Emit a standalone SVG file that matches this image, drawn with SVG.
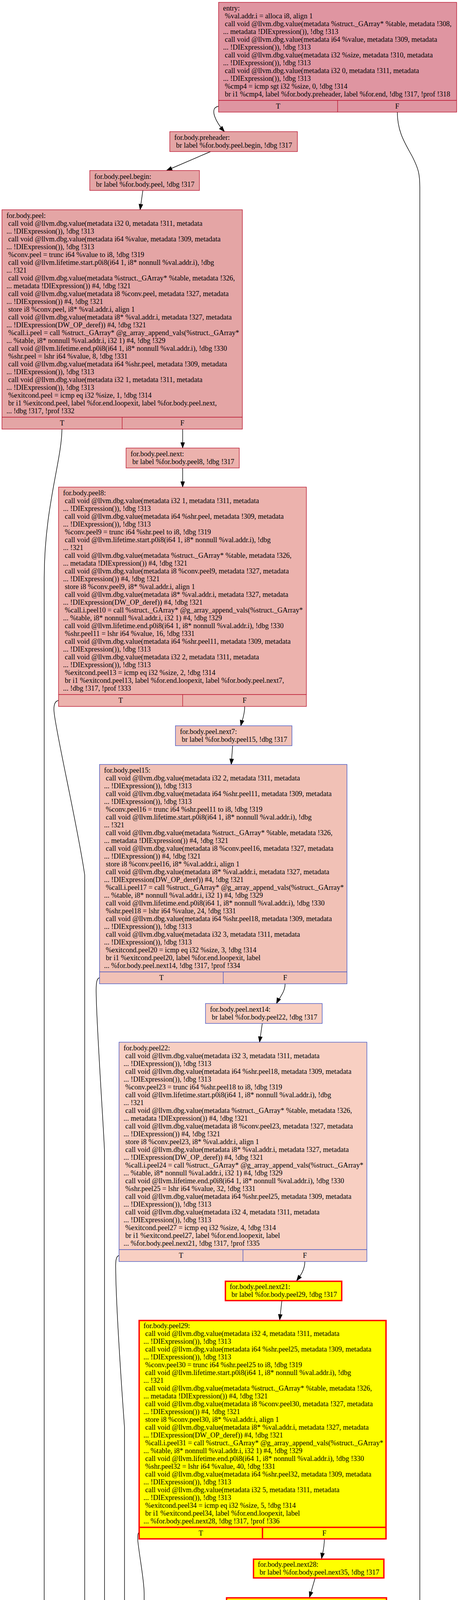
<svg xmlns="http://www.w3.org/2000/svg" width="1176" height="5268" viewBox="0 0 1176 5268">
<style>
.t{font-family:"Liberation Serif","Times New Roman",serif;font-size:18.35px;fill:#000;stroke:none}
.m{text-anchor:middle}
.c0{fill:#df95a1;stroke:#b70d28;stroke-width:1.3}
.c1{fill:#e4a5a5;stroke:#b70d28;stroke-width:1.3}
.c2{fill:#ecb2ad;stroke:#b70d28;stroke-width:1.3}
.c3{fill:#f1c1b6;stroke:#3d50c3;stroke-width:1.3}
.c4{fill:#f8cfc2;stroke:#3d50c3;stroke-width:1.3}
.cy{fill:#ffff00;stroke:#ff0000;stroke-width:3.5}
#edges path{fill:none;stroke:#000;stroke-width:1.4;marker-end:url(#ah)}
</style>
<defs>
<marker id="ah" markerWidth="15" markerHeight="11" viewBox="0 0 15 11" refX="14" refY="5" orient="auto" markerUnits="userSpaceOnUse" overflow="visible"><path d="M0,0 L14,5 L0,10 Z" fill="#000" stroke="#000" stroke-width="1"/></marker>
</defs>
<rect x="0" y="0" width="1176" height="5268" fill="#fff"/>

<g id="edges">
<path d="M560,272 C548,274 545,283 550,298 C555,312 565,326 575,337"/>
<path d="M1018,287 C1018,340 1040,370 1057,402 C1072,432 1075.6,445 1075.6,480 L1075.6,5000 C1075.6,5110 950,5165 780,5198"/>
<path d="M539.6,388 L426.7,436.5"/>
<path d="M366,487.5 L359,537"/>
<path d="M158.7,1098.5 C158,1180 113.3,1300 113.3,1480 L113.3,4640 C113.3,4740 125,4790 140,4820 C175,4890 240,4990 292,5080"/>
<path d="M468,1098.5 L468,1147"/>
<path d="M468,1198 L468,1247"/>
<path d="M150,1793 C140,1795 137,1805 138.5,1822 C142,1870 200,2120 217,2240 L217,4636 C217,4800 240,4900 301.5,5080"/>
<path d="M627,1808.5 C627,1830 620,1845 617,1858"/>
<path d="M596,1909 L592.5,1957"/>
<path d="M255,2503 C248,2505 246,2515 246.4,2540 C247,2620 265,2880 267.7,2945 L267.7,4636 C267.7,4800 285,4930 315,5080"/>
<path d="M730.5,2518.5 C730.5,2540 715,2555 708.5,2569"/>
<path d="M672,2620 L665,2668"/>
<path d="M305,3214 C298,3216 296,3225 296.4,3245 C297,3350 315,3600 319,3654 L319,5000 C319,5040 320,5060 321,5080"/>
<path d="M781,3229.5 C781,3252 768,3268 760,3278.6"/>
<path d="M722,3331 L716.6,3379"/>
<path d="M355,3924 C352,3928 352,3940 355,3960 C360,4000 369.4,4050 369.4,4080 L369.4,4680 C369.4,4850 345,4960 328,5080"/>
<path d="M831,3941 C831,3962 826,3978 824,3990"/>
<path d="M807,4041 L793,4089"/>
<path d="M769.5,4142 L742,4189"/>
<path d="M724,4242 L722.5,4289"/>
<path d="M559,4931 L559,4980"/>
<path d="M881.5,4931 C910,4955 940,4977 967.7,4976 C1005,4975 1030,4940 1036,4870 C1040,4800 1035,4720 1016,4643"/>
<path d="M497,5033 L386,5080"/>
<path d="M415,5131.7 L615,5183"/>
</g>

<g id="n_entry" class="c0">
<rect x="560" y="6" width="610" height="281"/>
<line x1="560" y1="257" x2="1170" y2="257"/>
<line x1="865" y1="257" x2="865" y2="287"/>
<text class="t"><tspan x="571.5" y="27">entry:</tspan><tspan x="576.1" y="47">%val.addr.i = alloca i8, align 1</tspan><tspan x="576.1" y="67">call void @llvm.dbg.value(metadata %struct._GArray* %table, metadata !308,</tspan><tspan x="571.5" y="87">... metadata !DIExpression()), !dbg !313</tspan><tspan x="576.1" y="107">call void @llvm.dbg.value(metadata i64 %value, metadata !309, metadata</tspan><tspan x="571.5" y="127">... !DIExpression()), !dbg !313</tspan><tspan x="576.1" y="147">call void @llvm.dbg.value(metadata i32 %size, metadata !310, metadata</tspan><tspan x="571.5" y="167">... !DIExpression()), !dbg !313</tspan><tspan x="576.1" y="187">call void @llvm.dbg.value(metadata i32 0, metadata !311, metadata</tspan><tspan x="571.5" y="207">... !DIExpression()), !dbg !313</tspan><tspan x="576.1" y="227">%cmp4 = icmp sgt i32 %size, 0, !dbg !314</tspan><tspan x="576.1" y="247">br i1 %cmp4, label %for.body.preheader, label %for.end, !dbg !317, !prof !318</tspan></text>
<text class="t m" x="712.5" y="278">T</text><text class="t m" x="1017.5" y="278">F</text>
</g>

<g id="n_preheader" class="c1">
<rect x="435" y="337" width="327" height="51"/>
<text class="t"><tspan x="446.5" y="358">for.body.preheader:</tspan><tspan x="451.1" y="378">br label %for.body.peel.begin, !dbg !317</tspan></text>
</g>

<g id="n_peel_begin" class="c1">
<rect x="230" y="436.5" width="281" height="51"/>
<text class="t"><tspan x="241.5" y="457.5">for.body.peel.begin:</tspan><tspan x="246.1" y="477.5">br label %for.body.peel, !dbg !317</tspan></text>
</g>

<g id="n_peel" class="c1">
<rect x="5" y="537" width="616" height="561.5"/>
<line x1="5" y1="1068" x2="621" y2="1068"/>
<line x1="313" y1="1068" x2="313" y2="1098.5"/>
<text class="t"><tspan x="16.5" y="558">for.body.peel:</tspan><tspan x="21.1" y="578">call void @llvm.dbg.value(metadata i32 0, metadata !311, metadata</tspan><tspan x="16.5" y="598">... !DIExpression()), !dbg !313</tspan><tspan x="21.1" y="618">call void @llvm.dbg.value(metadata i64 %value, metadata !309, metadata</tspan><tspan x="16.5" y="638">... !DIExpression()), !dbg !313</tspan><tspan x="21.1" y="658">%conv.peel = trunc i64 %value to i8, !dbg !319</tspan><tspan x="21.1" y="678">call void @llvm.lifetime.start.p0i8(i64 1, i8* nonnull %val.addr.i), !dbg</tspan><tspan x="16.5" y="698">... !321</tspan><tspan x="21.1" y="718">call void @llvm.dbg.value(metadata %struct._GArray* %table, metadata !326,</tspan><tspan x="16.5" y="738">... metadata !DIExpression()) #4, !dbg !321</tspan><tspan x="21.1" y="758">call void @llvm.dbg.value(metadata i8 %conv.peel, metadata !327, metadata</tspan><tspan x="16.5" y="778">... !DIExpression()) #4, !dbg !321</tspan><tspan x="21.1" y="798">store i8 %conv.peel, i8* %val.addr.i, align 1</tspan><tspan x="21.1" y="818">call void @llvm.dbg.value(metadata i8* %val.addr.i, metadata !327, metadata</tspan><tspan x="16.5" y="838">... !DIExpression(DW_OP_deref)) #4, !dbg !321</tspan><tspan x="21.1" y="858">%call.i.peel = call %struct._GArray* @g_array_append_vals(%struct._GArray*</tspan><tspan x="16.5" y="878">... %table, i8* nonnull %val.addr.i, i32 1) #4, !dbg !329</tspan><tspan x="21.1" y="898">call void @llvm.lifetime.end.p0i8(i64 1, i8* nonnull %val.addr.i), !dbg !330</tspan><tspan x="21.1" y="918">%shr.peel = lshr i64 %value, 8, !dbg !331</tspan><tspan x="21.1" y="938">call void @llvm.dbg.value(metadata i64 %shr.peel, metadata !309, metadata</tspan><tspan x="16.5" y="958">... !DIExpression()), !dbg !313</tspan><tspan x="21.1" y="978">call void @llvm.dbg.value(metadata i32 1, metadata !311, metadata</tspan><tspan x="16.5" y="998">... !DIExpression()), !dbg !313</tspan><tspan x="21.1" y="1018">%exitcond.peel = icmp eq i32 %size, 1, !dbg !314</tspan><tspan x="21.1" y="1038">br i1 %exitcond.peel, label %for.end.loopexit, label %for.body.peel.next,</tspan><tspan x="16.5" y="1058">... !dbg !317, !prof !332</tspan></text>
<text class="t m" x="159" y="1089">T</text><text class="t m" x="467" y="1089">F</text>
</g>

<g id="n_peel_next" class="c2">
<rect x="323" y="1147" width="290" height="51"/>
<text class="t"><tspan x="334.5" y="1168">for.body.peel.next:</tspan><tspan x="339.1" y="1188">br label %for.body.peel8, !dbg !317</tspan></text>
</g>

<g id="n_peel8" class="c2">
<rect x="150" y="1247" width="635" height="561.5"/>
<line x1="150" y1="1778" x2="785" y2="1778"/>
<line x1="468" y1="1778" x2="468" y2="1808.5"/>
<text class="t"><tspan x="161.5" y="1268">for.body.peel8:</tspan><tspan x="166.1" y="1288">call void @llvm.dbg.value(metadata i32 1, metadata !311, metadata</tspan><tspan x="161.5" y="1308">... !DIExpression()), !dbg !313</tspan><tspan x="166.1" y="1328">call void @llvm.dbg.value(metadata i64 %shr.peel, metadata !309, metadata</tspan><tspan x="161.5" y="1348">... !DIExpression()), !dbg !313</tspan><tspan x="166.1" y="1368">%conv.peel9 = trunc i64 %shr.peel to i8, !dbg !319</tspan><tspan x="166.1" y="1388">call void @llvm.lifetime.start.p0i8(i64 1, i8* nonnull %val.addr.i), !dbg</tspan><tspan x="161.5" y="1408">... !321</tspan><tspan x="166.1" y="1428">call void @llvm.dbg.value(metadata %struct._GArray* %table, metadata !326,</tspan><tspan x="161.5" y="1448">... metadata !DIExpression()) #4, !dbg !321</tspan><tspan x="166.1" y="1468">call void @llvm.dbg.value(metadata i8 %conv.peel9, metadata !327, metadata</tspan><tspan x="161.5" y="1488">... !DIExpression()) #4, !dbg !321</tspan><tspan x="166.1" y="1508">store i8 %conv.peel9, i8* %val.addr.i, align 1</tspan><tspan x="166.1" y="1528">call void @llvm.dbg.value(metadata i8* %val.addr.i, metadata !327, metadata</tspan><tspan x="161.5" y="1548">... !DIExpression(DW_OP_deref)) #4, !dbg !321</tspan><tspan x="166.1" y="1568">%call.i.peel10 = call %struct._GArray* @g_array_append_vals(%struct._GArray*</tspan><tspan x="161.5" y="1588">... %table, i8* nonnull %val.addr.i, i32 1) #4, !dbg !329</tspan><tspan x="166.1" y="1608">call void @llvm.lifetime.end.p0i8(i64 1, i8* nonnull %val.addr.i), !dbg !330</tspan><tspan x="166.1" y="1628">%shr.peel11 = lshr i64 %value, 16, !dbg !331</tspan><tspan x="166.1" y="1648">call void @llvm.dbg.value(metadata i64 %shr.peel11, metadata !309, metadata</tspan><tspan x="161.5" y="1668">... !DIExpression()), !dbg !313</tspan><tspan x="166.1" y="1688">call void @llvm.dbg.value(metadata i32 2, metadata !311, metadata</tspan><tspan x="161.5" y="1708">... !DIExpression()), !dbg !313</tspan><tspan x="166.1" y="1728">%exitcond.peel13 = icmp eq i32 %size, 2, !dbg !314</tspan><tspan x="166.1" y="1748">br i1 %exitcond.peel13, label %for.end.loopexit, label %for.body.peel.next7,</tspan><tspan x="161.5" y="1768">... !dbg !317, !prof !333</tspan></text>
<text class="t m" x="309" y="1799">T</text><text class="t m" x="626.5" y="1799">F</text>
</g>

<g id="n_peel_next7" class="c3">
<rect x="449.5" y="1858" width="298.5" height="51"/>
<text class="t"><tspan x="461" y="1879">for.body.peel.next7:</tspan><tspan x="465.6" y="1899">br label %for.body.peel15, !dbg !317</tspan></text>
</g>

<g id="n_peel15" class="c3">
<rect x="255" y="1957" width="634" height="561.5"/>
<line x1="255" y1="2488" x2="889" y2="2488"/>
<line x1="572" y1="2488" x2="572" y2="2518.5"/>
<text class="t"><tspan x="266.5" y="1978">for.body.peel15:</tspan><tspan x="271.1" y="1998">call void @llvm.dbg.value(metadata i32 2, metadata !311, metadata</tspan><tspan x="266.5" y="2018">... !DIExpression()), !dbg !313</tspan><tspan x="271.1" y="2038">call void @llvm.dbg.value(metadata i64 %shr.peel11, metadata !309, metadata</tspan><tspan x="266.5" y="2058">... !DIExpression()), !dbg !313</tspan><tspan x="271.1" y="2078">%conv.peel16 = trunc i64 %shr.peel11 to i8, !dbg !319</tspan><tspan x="271.1" y="2098">call void @llvm.lifetime.start.p0i8(i64 1, i8* nonnull %val.addr.i), !dbg</tspan><tspan x="266.5" y="2118">... !321</tspan><tspan x="271.1" y="2138">call void @llvm.dbg.value(metadata %struct._GArray* %table, metadata !326,</tspan><tspan x="266.5" y="2158">... metadata !DIExpression()) #4, !dbg !321</tspan><tspan x="271.1" y="2178">call void @llvm.dbg.value(metadata i8 %conv.peel16, metadata !327, metadata</tspan><tspan x="266.5" y="2198">... !DIExpression()) #4, !dbg !321</tspan><tspan x="271.1" y="2218">store i8 %conv.peel16, i8* %val.addr.i, align 1</tspan><tspan x="271.1" y="2238">call void @llvm.dbg.value(metadata i8* %val.addr.i, metadata !327, metadata</tspan><tspan x="266.5" y="2258">... !DIExpression(DW_OP_deref)) #4, !dbg !321</tspan><tspan x="271.1" y="2278">%call.i.peel17 = call %struct._GArray* @g_array_append_vals(%struct._GArray*</tspan><tspan x="266.5" y="2298">... %table, i8* nonnull %val.addr.i, i32 1) #4, !dbg !329</tspan><tspan x="271.1" y="2318">call void @llvm.lifetime.end.p0i8(i64 1, i8* nonnull %val.addr.i), !dbg !330</tspan><tspan x="271.1" y="2338">%shr.peel18 = lshr i64 %value, 24, !dbg !331</tspan><tspan x="271.1" y="2358">call void @llvm.dbg.value(metadata i64 %shr.peel18, metadata !309, metadata</tspan><tspan x="266.5" y="2378">... !DIExpression()), !dbg !313</tspan><tspan x="271.1" y="2398">call void @llvm.dbg.value(metadata i32 3, metadata !311, metadata</tspan><tspan x="266.5" y="2418">... !DIExpression()), !dbg !313</tspan><tspan x="271.1" y="2438">%exitcond.peel20 = icmp eq i32 %size, 3, !dbg !314</tspan><tspan x="271.1" y="2458">br i1 %exitcond.peel20, label %for.end.loopexit, label</tspan><tspan x="266.5" y="2478">... %for.body.peel.next14, !dbg !317, !prof !334</tspan></text>
<text class="t m" x="413.5" y="2509">T</text><text class="t m" x="730.5" y="2509">F</text>
</g>

<g id="n_peel_next14" class="c4">
<rect x="526.5" y="2569" width="299" height="51"/>
<text class="t"><tspan x="538" y="2590">for.body.peel.next14:</tspan><tspan x="542.6" y="2610">br label %for.body.peel22, !dbg !317</tspan></text>
</g>

<g id="n_peel22" class="c4">
<rect x="305" y="2668" width="635" height="561.5"/>
<line x1="305" y1="3199" x2="940" y2="3199"/>
<line x1="622.5" y1="3199" x2="622.5" y2="3229.5"/>
<text class="t"><tspan x="316.5" y="2689">for.body.peel22:</tspan><tspan x="321.1" y="2709">call void @llvm.dbg.value(metadata i32 3, metadata !311, metadata</tspan><tspan x="316.5" y="2729">... !DIExpression()), !dbg !313</tspan><tspan x="321.1" y="2749">call void @llvm.dbg.value(metadata i64 %shr.peel18, metadata !309, metadata</tspan><tspan x="316.5" y="2769">... !DIExpression()), !dbg !313</tspan><tspan x="321.1" y="2789">%conv.peel23 = trunc i64 %shr.peel18 to i8, !dbg !319</tspan><tspan x="321.1" y="2809">call void @llvm.lifetime.start.p0i8(i64 1, i8* nonnull %val.addr.i), !dbg</tspan><tspan x="316.5" y="2829">... !321</tspan><tspan x="321.1" y="2849">call void @llvm.dbg.value(metadata %struct._GArray* %table, metadata !326,</tspan><tspan x="316.5" y="2869">... metadata !DIExpression()) #4, !dbg !321</tspan><tspan x="321.1" y="2889">call void @llvm.dbg.value(metadata i8 %conv.peel23, metadata !327, metadata</tspan><tspan x="316.5" y="2909">... !DIExpression()) #4, !dbg !321</tspan><tspan x="321.1" y="2929">store i8 %conv.peel23, i8* %val.addr.i, align 1</tspan><tspan x="321.1" y="2949">call void @llvm.dbg.value(metadata i8* %val.addr.i, metadata !327, metadata</tspan><tspan x="316.5" y="2969">... !DIExpression(DW_OP_deref)) #4, !dbg !321</tspan><tspan x="321.1" y="2989">%call.i.peel24 = call %struct._GArray* @g_array_append_vals(%struct._GArray*</tspan><tspan x="316.5" y="3009">... %table, i8* nonnull %val.addr.i, i32 1) #4, !dbg !329</tspan><tspan x="321.1" y="3029">call void @llvm.lifetime.end.p0i8(i64 1, i8* nonnull %val.addr.i), !dbg !330</tspan><tspan x="321.1" y="3049">%shr.peel25 = lshr i64 %value, 32, !dbg !331</tspan><tspan x="321.1" y="3069">call void @llvm.dbg.value(metadata i64 %shr.peel25, metadata !309, metadata</tspan><tspan x="316.5" y="3089">... !DIExpression()), !dbg !313</tspan><tspan x="321.1" y="3109">call void @llvm.dbg.value(metadata i32 4, metadata !311, metadata</tspan><tspan x="316.5" y="3129">... !DIExpression()), !dbg !313</tspan><tspan x="321.1" y="3149">%exitcond.peel27 = icmp eq i32 %size, 4, !dbg !314</tspan><tspan x="321.1" y="3169">br i1 %exitcond.peel27, label %for.end.loopexit, label</tspan><tspan x="316.5" y="3189">... %for.body.peel.next21, !dbg !317, !prof !335</tspan></text>
<text class="t m" x="463.8" y="3220">T</text><text class="t m" x="781" y="3220">F</text>
</g>

<g id="n_peel_next21" class="cy">
<rect x="577.5" y="3280.1" width="298" height="49.4"/>
<text class="t"><tspan x="588.5" y="3299.6">for.body.peel.next21:</tspan><tspan x="593.1" y="3319.6">br label %for.body.peel29, !dbg !317</tspan></text>
</g>

<g id="n_peel29" class="cy">
<rect x="356.5" y="3380.5" width="632.5" height="559"/>
<line x1="356.5" y1="3910" x2="989" y2="3910"/>
<line x1="672.5" y1="3910" x2="672.5" y2="3939.5"/>
<text class="t"><tspan x="367.5" y="3400">for.body.peel29:</tspan><tspan x="372.1" y="3420">call void @llvm.dbg.value(metadata i32 4, metadata !311, metadata</tspan><tspan x="367.5" y="3440">... !DIExpression()), !dbg !313</tspan><tspan x="372.1" y="3460">call void @llvm.dbg.value(metadata i64 %shr.peel25, metadata !309, metadata</tspan><tspan x="367.5" y="3480">... !DIExpression()), !dbg !313</tspan><tspan x="372.1" y="3500">%conv.peel30 = trunc i64 %shr.peel25 to i8, !dbg !319</tspan><tspan x="372.1" y="3520">call void @llvm.lifetime.start.p0i8(i64 1, i8* nonnull %val.addr.i), !dbg</tspan><tspan x="367.5" y="3540">... !321</tspan><tspan x="372.1" y="3560">call void @llvm.dbg.value(metadata %struct._GArray* %table, metadata !326,</tspan><tspan x="367.5" y="3580">... metadata !DIExpression()) #4, !dbg !321</tspan><tspan x="372.1" y="3600">call void @llvm.dbg.value(metadata i8 %conv.peel30, metadata !327, metadata</tspan><tspan x="367.5" y="3620">... !DIExpression()) #4, !dbg !321</tspan><tspan x="372.1" y="3640">store i8 %conv.peel30, i8* %val.addr.i, align 1</tspan><tspan x="372.1" y="3660">call void @llvm.dbg.value(metadata i8* %val.addr.i, metadata !327, metadata</tspan><tspan x="367.5" y="3680">... !DIExpression(DW_OP_deref)) #4, !dbg !321</tspan><tspan x="372.1" y="3700">%call.i.peel31 = call %struct._GArray* @g_array_append_vals(%struct._GArray*</tspan><tspan x="367.5" y="3720">... %table, i8* nonnull %val.addr.i, i32 1) #4, !dbg !329</tspan><tspan x="372.1" y="3740">call void @llvm.lifetime.end.p0i8(i64 1, i8* nonnull %val.addr.i), !dbg !330</tspan><tspan x="372.1" y="3760">%shr.peel32 = lshr i64 %value, 40, !dbg !331</tspan><tspan x="372.1" y="3780">call void @llvm.dbg.value(metadata i64 %shr.peel32, metadata !309, metadata</tspan><tspan x="367.5" y="3800">... !DIExpression()), !dbg !313</tspan><tspan x="372.1" y="3820">call void @llvm.dbg.value(metadata i32 5, metadata !311, metadata</tspan><tspan x="367.5" y="3840">... !DIExpression()), !dbg !313</tspan><tspan x="372.1" y="3860">%exitcond.peel34 = icmp eq i32 %size, 5, !dbg !314</tspan><tspan x="372.1" y="3880">br i1 %exitcond.peel34, label %for.end.loopexit, label</tspan><tspan x="367.5" y="3900">... %for.body.peel.next28, !dbg !317, !prof !336</tspan></text>
<text class="t m" x="514.5" y="3931">T</text><text class="t m" x="830.8" y="3931">F</text>
</g>

<g id="n_peel_next28" class="cy">
<rect x="649.5" y="3991.5" width="334" height="48"/>
<text class="t"><tspan x="660.5" y="4011">for.body.peel.next28:</tspan><tspan x="665.1" y="4031">br label %for.body.peel.next35, !dbg !317</tspan></text>
</g>

<g id="n_peel_next35" class="cy">
<rect x="580.5" y="4090.5" width="409.7" height="50"/>
<text class="t"><tspan x="591.5" y="4110">for.body.peel.next35:</tspan><tspan x="596.1" y="4130">br label %for.body.preheader.peel.newph, !dbg !317</tspan></text>
</g>

<g id="n_newph" class="cy">
<rect x="596.5" y="4190.5" width="258" height="50"/>
<text class="t"><tspan x="607.5" y="4210">for.body.preheader.peel.newph:</tspan><tspan x="612.1" y="4230">br label %for.body, !dbg !317</tspan></text>
</g>

<g id="n_for_body" class="cy">
<rect x="407.5" y="4290.5" width="606" height="639"/>
<line x1="407.5" y1="4901.5" x2="1013.5" y2="4901.5"/>
<line x1="710" y1="4901.5" x2="710" y2="4929.5"/>
<text class="t"><tspan x="418" y="4310">for.body:</tspan><tspan x="422.6" y="4330">%i.06 = phi i32 [ %inc, %for.body ], [ 5, %for.body.preheader.peel.newph ]</tspan><tspan x="422.6" y="4350">%value.addr.05 = phi i64 [ %shr, %for.body ], [ %shr.peel32,</tspan><tspan x="418" y="4370">... %for.body.preheader.peel.newph ]</tspan><tspan x="422.6" y="4390">call void @llvm.dbg.value(metadata i32 %i.06, metadata !311, metadata</tspan><tspan x="418" y="4410">... !DIExpression()), !dbg !313</tspan><tspan x="422.6" y="4430">call void @llvm.dbg.value(metadata i64 %value.addr.05, metadata !309,</tspan><tspan x="418" y="4450">... metadata !DIExpression()), !dbg !313</tspan><tspan x="422.6" y="4470">%conv = trunc i64 %value.addr.05 to i8, !dbg !319</tspan><tspan x="422.6" y="4490">call void @llvm.lifetime.start.p0i8(i64 1, i8* nonnull %val.addr.i), !dbg</tspan><tspan x="418" y="4510">... !321</tspan><tspan x="422.6" y="4530">call void @llvm.dbg.value(metadata %struct._GArray* %table, metadata !326,</tspan><tspan x="418" y="4550">... metadata !DIExpression()) #4, !dbg !321</tspan><tspan x="422.6" y="4570">call void @llvm.dbg.value(metadata i8 %conv, metadata !327, metadata</tspan><tspan x="418" y="4590">... !DIExpression()) #4, !dbg !321</tspan><tspan x="422.6" y="4610">store i8 %conv, i8* %val.addr.i, align 1</tspan><tspan x="422.6" y="4630">call void @llvm.dbg.value(metadata i8* %val.addr.i, metadata !327, metadata</tspan><tspan x="418" y="4650">... !DIExpression(DW_OP_deref)) #4, !dbg !321</tspan><tspan x="422.6" y="4670">%call.i = call %struct._GArray* @g_array_append_vals(%struct._GArray*</tspan><tspan x="418" y="4690">... %table, i8* nonnull %val.addr.i, i32 1) #4, !dbg !329</tspan><tspan x="422.6" y="4710">call void @llvm.lifetime.end.p0i8(i64 1, i8* nonnull %val.addr.i), !dbg !330</tspan><tspan x="422.6" y="4730">%shr = lshr i64 %value.addr.05, 8, !dbg !331</tspan><tspan x="422.6" y="4750">call void @llvm.dbg.value(metadata i64 %shr, metadata !309, metadata</tspan><tspan x="418" y="4770">... !DIExpression()), !dbg !313</tspan><tspan x="422.6" y="4790">%inc = add nuw nsw i32 %i.06, 1, !dbg !337</tspan><tspan x="422.6" y="4810">call void @llvm.dbg.value(metadata i32 %inc, metadata !311, metadata</tspan><tspan x="418" y="4830">... !DIExpression()), !dbg !313</tspan><tspan x="422.6" y="4850">%exitcond = icmp eq i32 %inc, %size, !dbg !314</tspan><tspan x="422.6" y="4870">br i1 %exitcond, label %for.end.loopexit.loopexit, label %for.body, !dbg</tspan><tspan x="418" y="4890">... !317, !prof !336, !llvm.loop !338</tspan></text>
<text class="t m" x="558.8" y="4922">T</text><text class="t m" x="861.8" y="4922">F</text>
</g>

<g id="n_loopexit_loopexit" class="cy">
<rect x="409" y="4981" width="299" height="50.5"/>
<text class="t"><tspan x="420" y="5001">for.end.loopexit.loopexit:</tspan><tspan x="424.6" y="5021">br label %for.end.loopexit, !dbg !342</tspan></text>
</g>

<g id="n_loopexit" class="c1">
<rect x="201" y="5080" width="235.6" height="51.7"/>
<text class="t"><tspan x="212.5" y="5101">for.end.loopexit:</tspan><tspan x="217.1" y="5121">br label %for.end, !dbg !342</tspan></text>
</g>

<g id="n_for_end" class="c0">
<rect x="615" y="5180" width="164" height="51.7"/>
<text class="t"><tspan x="626.5" y="5201">for.end:</tspan><tspan x="631.1" y="5221">ret void, !dbg !342</tspan></text>
</g>

<text class="t m" x="588" y="5251">CFG for 'build_append_int_noprefix' function</text>
</svg>
